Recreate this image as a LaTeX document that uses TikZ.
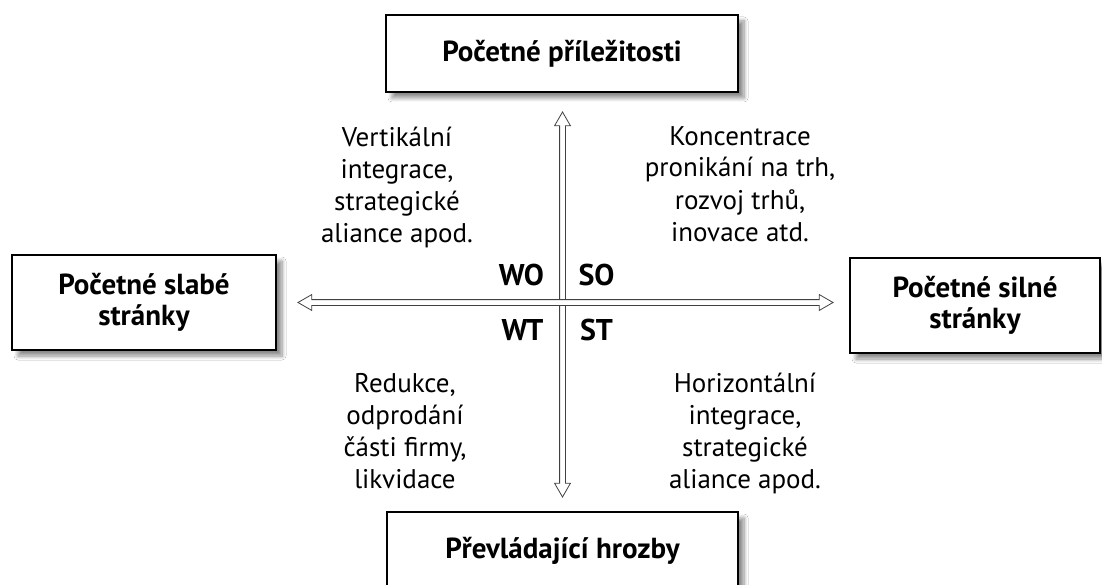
\documentclass[tikz,border=0pt]{standalone}
\usepackage{fontspec}
\setmainfont{PT Sans}
\usetikzlibrary{shapes.arrows,shadows.blur}
\tikzset{
  box/.style={draw, line width=2.2pt, fill=white, align=center,
    font=\bfseries\fontsize{29}{31}\selectfont,
    blur shadow={shadow xshift=6pt, shadow yshift=-6pt, shadow blur steps=8,
      shadow opacity=45, shadow blur radius=4pt}},
  lbl/.style={align=center, font=\fontsize{27}{32}\selectfont, inner sep=0pt, anchor=base},
  quad/.style={font=\bfseries\fontsize{30}{31}\selectfont, inner sep=0pt, anchor=base},
  darr/.style={double arrow, draw=black!75, line width=0.8pt, fill=white,
    inner sep=2.5pt, minimum width=15pt, double arrow head extend=5pt,
    double arrow tip angle=60},
}
\begin{document}
\begin{tikzpicture}[x=1pt,y=-1pt]
\clip (0,0) rectangle (1102,585);
\fill[white] (0,0) rectangle (1102,585);
% boxes
\node[box, minimum width=352pt, minimum height=77pt] (opp) at (562,53.5) {Početné příležitosti};
\node[box, minimum width=264pt, minimum height=95pt] (weak) at (144,302.5) {Početné slabé\\stránky};
\node[box, minimum width=250pt, minimum height=95pt] (strong) at (975,305.5) {Početné silné\\stránky};
\node[box, minimum width=351pt, minimum height=78pt] (thr) at (562.5,551) {Převládající hrozby};
% arrows
\node[darr, minimum height=385pt, rotate=90] (varr) at (562.5,304.5) {};
\node[darr, minimum height=535pt] (harr) at (565.5,302.5) {};
% quadrant labels
\node[quad] (wo) at (521.5,285) {WO};
\node[quad] (so) at (596.5,285) {SO};
\node[quad] (wt) at (522.5,340) {WT};
\node[quad] (st) at (596.5,340) {ST};
% strategies (anchor base = last line baseline)
\node[lbl] (tl) at (397,243) {Vertikální\\integrace,\\strategické\\aliance apod.};
\node[lbl] (tr) at (740,241) {Koncentrace\\pronikání na trh,\\rozvoj trhů,\\inovace atd.};
\node[lbl] (bl) at (405,488) {Redukce,\\odprodání\\části firmy,\\likvidace};
\node[lbl] (br) at (745,488) {Horizontální\\integrace,\\strategické\\aliance apod.};
\end{tikzpicture}
\end{document}
